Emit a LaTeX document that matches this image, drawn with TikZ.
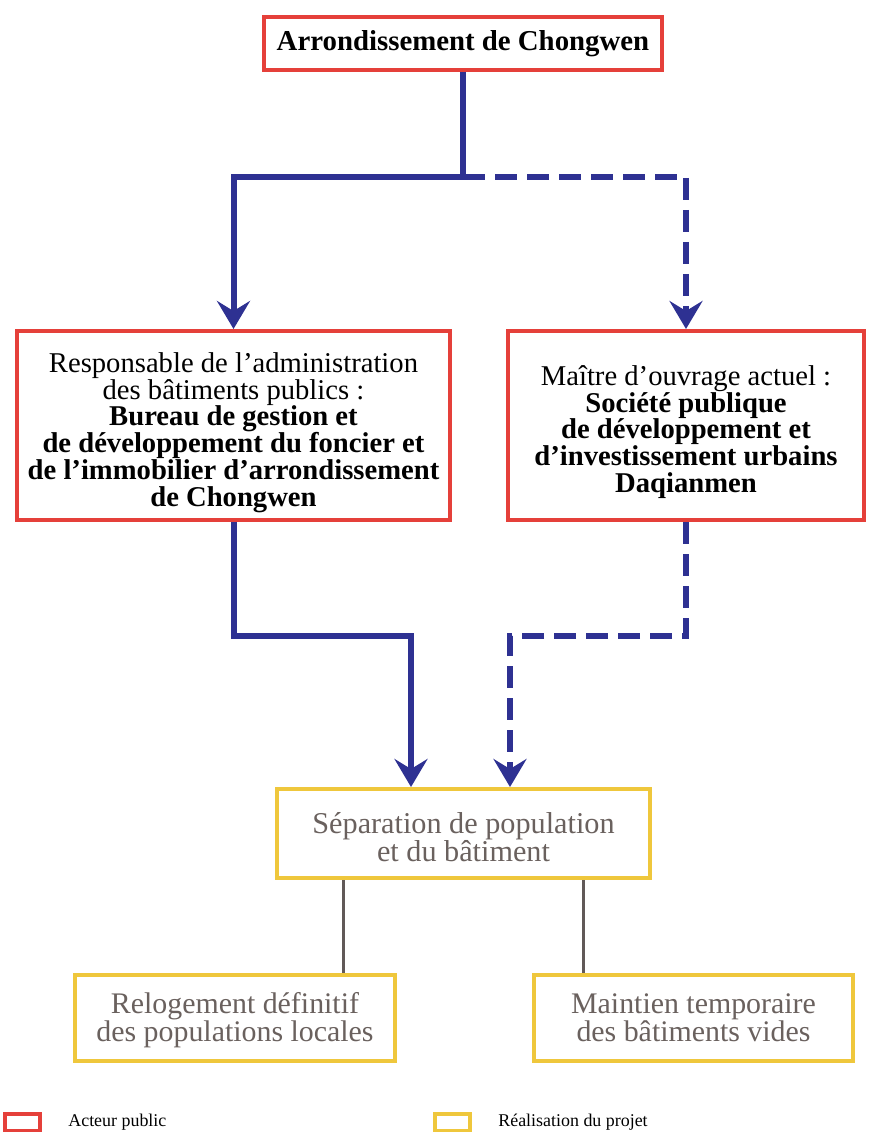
\documentclass[tikz,border=0pt]{standalone}
\usepackage{fontspec}
\setmainfont{Liberation Serif}
\usetikzlibrary{arrows.meta, positioning}
\definecolor{ChongRed}{HTML}{E5403A}
\definecolor{ChongYellow}{HTML}{EFC73C}
\definecolor{ChongBlue}{HTML}{2E3192}
\definecolor{ChongGray}{HTML}{615958}
\definecolor{ChongText}{HTML}{6A615E}
\newcommand{\tightlines}{\lineskiplimit=-1cm\relax}
\newcommand{\toprule}[1]{\rule{0pt}{#1}}

\begin{document}
\begin{tikzpicture}[
    actor/.style={rectangle, draw=ChongRed, fill=white, line width=0.08cm, align=center, inner sep=0pt},
    project/.style={rectangle, draw=ChongYellow, fill=white, line width=0.08cm, align=center, inner sep=0pt, text=ChongText},
    arrow/.style={-{Stealth[length=0.56cm, width=0.66cm, inset=0.2cm]}, draw=ChongBlue, line width=0.12cm},
    future/.style={dash pattern=on 0.44cm off 0.2cm},
    link/.style={draw=ChongGray, line width=0.06cm},
    legend/.style={inner sep=0pt, font=\fontsize{10.2}{12}\selectfont}
]
\useasboundingbox (0,0) rectangle (17.38,-22.64);

% Public actors
\node[actor, minimum width=7.96cm, minimum height=1.06cm, font=\fontsize{16.4}{18}\selectfont\bfseries] (chongwen) at (9.26,-0.87) {Arrondissement de Chongwen};
\node[actor, minimum width=8.66cm, minimum height=3.78cm, font=\fontsize{16.3}{15.3}\selectfont\tightlines] (admin) at (4.67,-8.51)
  {\toprule{0.68cm}Responsable de l’administration\\ des bâtiments publics~:\\ \textbf{Bureau de gestion et}\\ \textbf{de développement du foncier et}\\ \textbf{de l’immobilier d’arrondissement}\\ \textbf{de Chongwen}};
\node[actor, minimum width=7.12cm, minimum height=3.78cm, font=\fontsize{16.3}{15.3}\selectfont\tightlines, right=1.08cm of admin] (maitre)
  {\toprule{0.66cm}Maître d’ouvrage actuel~:\\ \textbf{Société publique}\\ \textbf{de développement et}\\ \textbf{d’investissement urbains}\\ \textbf{Daqianmen}};

% Project steps
\node[project, minimum width=7.46cm, minimum height=1.78cm, font=\fontsize{17.2}{16}\selectfont\tightlines] (separation) at (9.27,-16.67)
  {\toprule{0.56cm}Séparation de population\\ et du bâtiment};
\node[project, minimum width=6.4cm, minimum height=1.72cm, font=\fontsize{17}{15.8}\selectfont\tightlines] (relogement) at (4.7,-20.36)
  {\toprule{0.52cm}Relogement définitif\\ des populations locales};
\node[project, minimum width=6.38cm, minimum height=1.72cm, font=\fontsize{17}{15.8}\selectfont\tightlines, right=2.7cm of relogement] (maintien)
  {Maintien temporaire\\ des bâtiments vides};

% Junction points
\coordinate (split) at (9.26,-3.54);
\coordinate (ljoin) at (8.22,-12.72);
\coordinate (rjoin) at (10.2,-12.72);
\coordinate (lstem) at (6.86,0);
\coordinate (rstem) at (11.66,0);

% Arrows
\draw[arrow] (chongwen.south) -- (split) -| (admin.north);
\draw[arrow, future] (split) -| (maitre.north);
\draw[arrow] (admin.south) |- (ljoin) -- (ljoin |- separation.north);
\draw[arrow, future] (maitre.south) |- (rjoin) -- (rjoin |- separation.north);
\draw[link] (separation.south -| lstem) -- (relogement.north -| lstem);
\draw[link] (separation.south -| rstem) -- (maintien.north -| rstem);

% Legend
\node[actor, minimum width=0.7cm, minimum height=0.34cm] (legactor) at (0.45,-22.45) {};
\node[legend, anchor=west, right=0.52cm of legactor] (legactortext) {Acteur public};
\node[project, minimum width=0.7cm, minimum height=0.34cm] (legproject) at (9.05,-22.45) {};
\node[legend, anchor=west, right=0.52cm of legproject] (legprojecttext) {Réalisation du projet};

\end{tikzpicture}
\end{document}
